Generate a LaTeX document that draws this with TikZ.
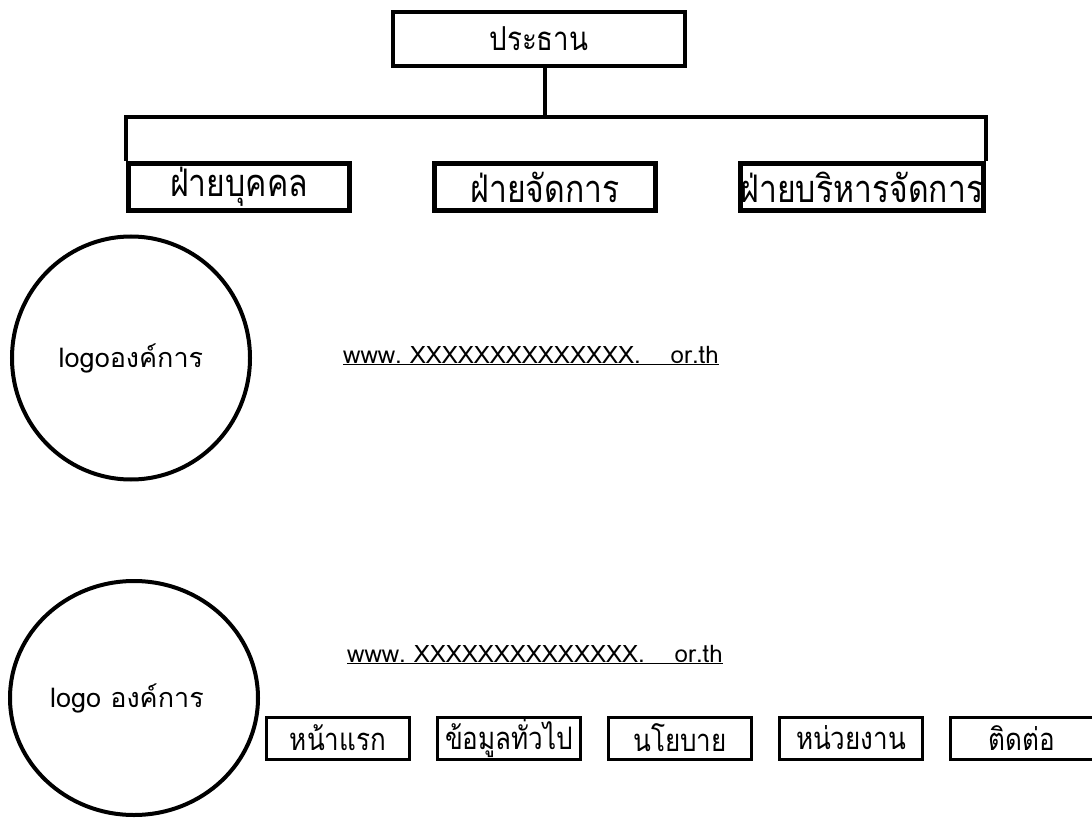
\documentclass[tikz,border=0pt]{standalone}
\usepackage{fontspec}
\setmainfont[Script=Thai]{Loma}
\newfontfamily\thaitall[Script=Thai,FakeStretch=0.84]{Loma}
\usetikzlibrary{positioning,shapes.geometric}

\begin{document}
\begin{tikzpicture}[x=1pt,y=-1pt,
    box/.style={draw,line width=4pt,minimum width=292pt,minimum height=54pt,inner sep=0pt,font=\thaitall\fontsize{33}{36}\selectfont},
    divbox/.style={draw,line width=5pt,minimum width=221pt,minimum height=47pt,inner sep=0pt,font=\thaitall\fontsize{38}{40}\selectfont},
    navbox/.style={draw,line width=3pt,minimum width=143pt,minimum height=42pt,inner sep=0pt,font=\thaitall\fontsize{31}{34}\selectfont},
    logo/.style={draw,ellipse,line width=4pt,inner sep=0pt,font=\fontsize{27}{30}\selectfont},
    url/.style={anchor=base west,inner sep=0pt,font=\fontsize{24}{28}\selectfont},
    link/.style={line width=4pt}]
    \useasboundingbox (0,0) rectangle (1092,818);
    \node[box] (pres) at (539,39) {ประธาน};
    \node[divbox] (div1) at (239,187) {ฝ่ายบุคคล};
    \node[divbox,right=80pt of div1] (div2) {ฝ่ายจัดการ};
    \node[divbox,right=80pt of div2] (div3) {ฝ่ายบริหารจัดการ};
    \coordinate (bar) at (545,117);
    \draw[link] (bar |- pres.south) -- (bar);
    \draw[link] (div1.north west) |- (bar) -| (div3.north east);

    \node[logo,minimum width=238pt,minimum height=243pt] (logo1) at (131,358) {logoองค์การ};
    \node[url] (url1) at (343,363) {\underline{www.\ XXXXXXXXXXXXXX.\hspace{30pt}or.th}};

    \node[logo,minimum width=248pt,minimum height=234pt] (logo2) at (134,698) {logo องค์การ\hspace*{14pt}};
    \node[url] (url2) at (347,662) {\underline{www.\ XXXXXXXXXXXXXX.\hspace{30pt}or.th}};
    \node[navbox] (nav1) at (338,738) {หน้าแรก};
    \node[navbox,right=25pt of nav1] (nav2) {ข้อมูลทั่วไป};
    \node[navbox,right=25pt of nav2] (nav3) {นโยบาย};
    \node[navbox,right=25pt of nav3] (nav4) {หน่วยงาน};
    \node[navbox,right=25pt of nav4] (nav5) {ติดต่อ};
\end{tikzpicture}
\end{document}
